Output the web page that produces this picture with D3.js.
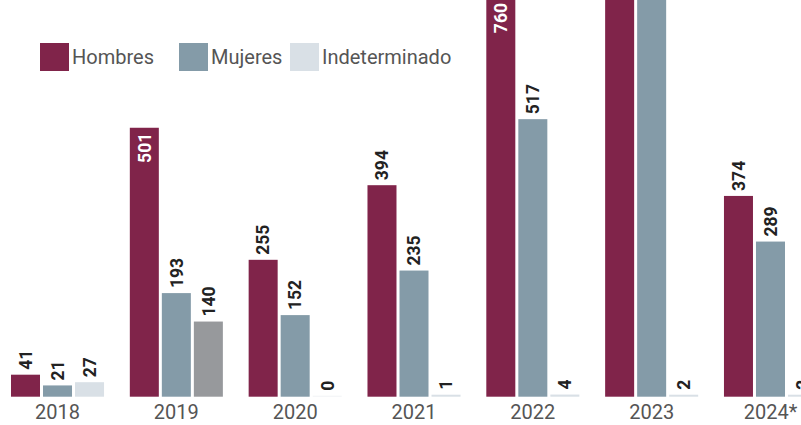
<html>
<head>
<meta charset="utf-8">
<script src="https://cdn.jsdelivr.net/npm/d3@7"></script>
<style>
  body { margin: 0; background: #fff; }
  text { font-family: Roboto, "Noto Sans", sans-serif; }
</style>
</head>
<body>
<div id="chart"></div>
<script>
// data (2023 bars run past the top, values estimated)
var years = ["2018", "2019", "2020", "2021", "2022", "2023", "2024*"];
var series = ["Hombres", "Mujeres", "Indeterminado"];
var hombres = [41, 501, 255, 394, 760, 1000, 374];
var mujeres = [21, 193, 152, 235, 517, 900, 289];
var indeterminado = [27, 140, 0, 1, 4, 2, 2];

var colors = {Hombres: "#80244a", Mujeres: "#849ba8", Indeterminado: "#d9e0e6"};
var grayYear = "2019"; // that Indeterminado bar is drawn darker

var width = 801, height = 425;
var baseY = 396.7;

var rows = years.map(function(y, i) {
  return {year: y, Hombres: hombres[i], Mujeres: mujeres[i], Indeterminado: indeterminado[i]};
});

var svg = d3.select("#chart").append("svg")
  .attr("width", width)
  .attr("height", height);

var x0 = d3.scaleBand()
  .domain(years)
  .range([-1.9, 829.9])
  .paddingInner(0.217)
  .paddingOuter(0.1085);

var x1 = d3.scaleBand()
  .domain(series)
  .range([0, x0.bandwidth()])
  .paddingInner(0.094);

var y = d3.scaleLinear()
  .domain([0, 739])
  .range([baseY, 0]);

var groups = svg.selectAll("g.year")
  .data(rows)
  .enter().append("g")
    .attr("class", "year")
    .attr("transform", function(d) { return "translate(" + x0(d.year) + ",0)"; });

var bars = groups.selectAll("g.bar")
  .data(function(d) {
    return series.map(function(s) { return {year: d.year, key: s, value: d[s]}; });
  })
  .enter().append("g").attr("class", "bar");

function barTop(d) {
  if (d.value == 0) return baseY - 1;
  return Math.min(y(d.value), baseY - 2);
}

// only the tall Hombres bars carry their number inside
function inside(d) { return d.key == "Hombres" && d.value > 450; }

bars.append("rect")
  .attr("x", function(d) { return x1(d.key); })
  .attr("y", barTop)
  .attr("width", x1.bandwidth())
  .attr("height", function(d) { return baseY - barTop(d); })
  .attr("fill", function(d) {
    if (d.value == 0) return "#f1f3f5";
    if (d.key == "Indeterminado" && d.year == grayYear) return "#97999c";
    return colors[d.key];
  });

// bars that run well past the top lose their label, as in the original crop
bars.filter(function(d) { return barTop(d) > -40; })
  .append("text")
  .attr("transform", function(d) {
    var cx = x1(d.key) + x1.bandwidth() / 2;
    var top = barTop(d);
    var ty;
    if (inside(d)) {
      ty = Math.max(top + 5, 3);
    } else {
      ty = top - 5;
    }
    return "translate(" + cx + "," + ty + ") rotate(-90)";
  })
  .attr("text-anchor", function(d) { return inside(d) ? "end" : "start"; })
  .attr("dy", "0.36em")
  .style("font-size", "17.5px")
  .style("font-weight", "bold")
  .attr("fill", function(d) { return inside(d) ? "#fff" : "#222"; })
  .text(function(d) { return d.value; });

// year labels
var xAxis = svg.append("g")
  .attr("transform", "translate(0," + baseY + ")")
  .call(d3.axisBottom(x0).tickSize(0));
xAxis.select(".domain").remove();
xAxis.selectAll("text")
  .attr("y", 22.6)
  .attr("dy", 0)
  .style("font-family", "Roboto, sans-serif")
  .style("font-size", "20px")
  .attr("fill", "#555");

// legend
var legendX = [40, 179, 290];
var legend = svg.selectAll("g.legend")
  .data(series)
  .enter().append("g")
    .attr("class", "legend")
    .attr("transform", function(d, i) { return "translate(" + legendX[i] + ",43)"; });
legend.append("rect")
  .attr("width", 29)
  .attr("height", 28)
  .attr("fill", function(d) { return colors[d]; });
legend.append("text")
  .attr("x", 32)
  .attr("y", 21)
  .style("font-size", "20px")
  .attr("fill", "#555")
  .text(function(d) { return d; });
</script>
</body>
</html>
